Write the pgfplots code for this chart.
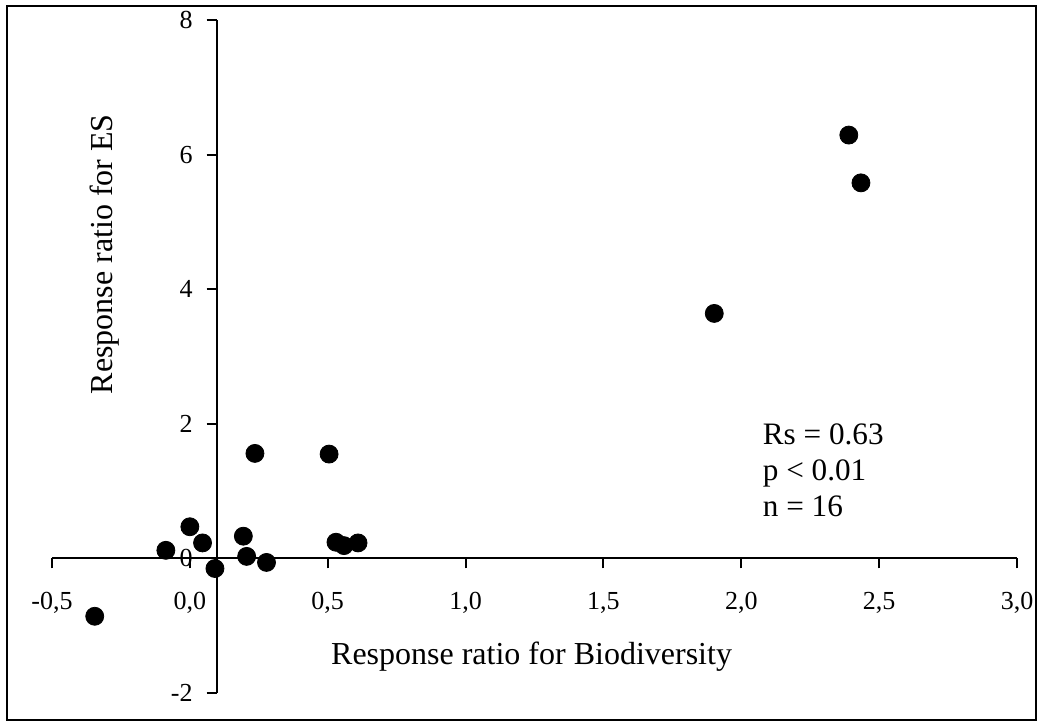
\documentclass[border=0pt]{standalone}
\usepackage{fontspec}
\setmainfont{Liberation Serif}
\usepackage{pgfplots}
\pgfplotsset{compat=1.18}
\begin{document}
\begin{tikzpicture}
\pgfplotsset{
  base/.style={
    width=482.5pt, height=336.5pt, scale only axis,
    ymin=-2, ymax=8,
    major tick length=5pt,
    tick label style={font=\fontsize{13}{15}\selectfont},
    /pgf/number format/assume math mode=true,
    hide obscured x ticks=false, hide obscured y ticks=false,
    clip=false,
  },
  fixlines/.style={
    every inner x axis line/.append style={-, line width=1pt},
    every inner y axis line/.append style={-, line width=1pt},
    major tick style={line width=1pt, black},
    tick align=center,
  }
}
\useasboundingbox (0,0) rectangle (519pt,361pt);
\draw[line width=1pt] (3.25pt,1pt) rectangle (518pt,358pt);
% x axis and data
\begin{axis}[base, at={(26pt,14.5pt)}, anchor=south west,
  xmin=-0.5, xmax=3.0,
  axis x line=middle, axis y line=none, fixlines,
  xtick style={yshift=-2.5pt},
  xtick={-0.5,0,0.5,1,1.5,2,2.5,3},
  xticklabel style={yshift=-11pt, /pgf/number format/.cd, fixed, fixed zerofill, precision=1, use comma},
  xlabel={Response ratio for Biodiversity},
  xlabel style={at={(axis description cs:0.497,0.0535)}, anchor=center, font=\fontsize{16}{19}\selectfont},
]
\addplot[only marks, mark=*, mark size=4.5pt, black] coordinates {
(-0.345,-0.86)
(-0.087,0.12)
(0.000,0.47)
(0.046,0.23)
(0.091,-0.15)
(0.194,0.33)
(0.206,0.03)
(0.278,-0.06)
(0.236,1.56)
(0.505,1.55)
(0.530,0.24)
(0.559,0.19)
(0.610,0.23)
(1.902,3.64)
(2.390,6.29)
(2.434,5.58)
};
\node[anchor=north west, align=left, inner sep=0pt, font=\fontsize{15.6}{18}\selectfont]
  at (axis cs:2.077,2.0) {Rs = 0.63\\p < 0.01\\n = 16};
\end{axis}
% y axis, crossing at x = 0.097
\begin{axis}[base, at={(26pt,14.5pt)}, anchor=south west,
  xmin=-0.597, xmax=2.903,
  axis x line=none, axis y line=middle, fixlines,
  ytick style={xshift=-2.5pt},
  ytick={-2,0,2,4,6,8},
  yticklabel style={xshift=-6pt},
  ylabel={Response ratio for ES},
  ylabel style={at={(axis description cs:0.055,0.652)}, anchor=center, rotate=90, font=\fontsize{16}{19}\selectfont},
]
\end{axis}
\end{tikzpicture}
\end{document}
